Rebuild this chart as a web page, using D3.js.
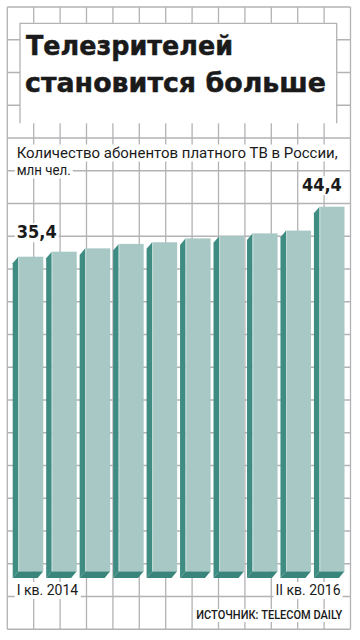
<!DOCTYPE html>
<html><head><meta charset="utf-8">
<script src="https://cdn.jsdelivr.net/npm/d3@7"></script>
<style>html,body{margin:0;padding:0;background:#fff}svg{display:block}</style>
</head><body>
<script>
const categories = ["I кв. 2014","II кв. 2014","III кв. 2014","IV кв. 2014","I кв. 2015","II кв. 2015","III кв. 2015","IV кв. 2015","I кв. 2016","II кв. 2016"];
const values = [35.4, 36.3, 36.9, 37.7, 38.0, 38.7, 39.1, 39.6, 40.1, 44.4];
const valueLabels = ["35,4", "44,4"];
const titleLines = ["Телезрителей", "становится больше"];
const subtitleLines = ["Количество абонентов платного ТВ в России,", "млн чел."];
const axisLabels = ["I кв. 2014", "II кв. 2016"];
const sourceText = "ИСТОЧНИК: TELECOM DAILY";

const W = 360, H = 640;
const svg = d3.select("body").append("svg").attr("width", W).attr("height", H);

const gridColor = "#b3b3b6";
// background grid
const gx0 = 7.3, gdx = 26.4, gy0 = 7, gdy = 32.75;
const grid = svg.append("g").attr("stroke", gridColor).attr("stroke-width", 1.3);
d3.range(14).forEach(k => grid.append("line").attr("x1", gx0 + k*gdx).attr("x2", gx0 + k*gdx).attr("y1", gy0).attr("y2", gy0 + 19*gdy));
d3.range(20).forEach(k => grid.append("line").attr("x1", gx0).attr("x2", gx0 + 13*gdx).attr("y1", gy0 + k*gdy).attr("y2", gy0 + k*gdy));

// title box
svg.append("rect").attr("x", 20).attr("y", 23.3).attr("width", 316.7).attr("height", 100).attr("fill", "#fff");
svg.append("path").attr("d", "M20,123.3V23.3H336.7V123.3").attr("fill", "none").attr("stroke", gridColor).attr("stroke-width", 1.3);

const title = svg.append("g").attr("font-family", "'DejaVu Sans', sans-serif").attr("font-weight", "bold")
  .attr("fill", "#1a1a1a").attr("stroke", "#1a1a1a").attr("stroke-width", 0.5);
title.append("text").attr("x", 26).attr("y", 55).attr("font-size", 27).attr("textLength", 207).attr("lengthAdjust", "spacingAndGlyphs").text(titleLines[0]);
title.append("text").attr("x", 25).attr("y", 91.5).attr("font-size", 27).attr("textLength", 301).attr("lengthAdjust", "spacingAndGlyphs").text(titleLines[1]);

function textWithBg(x, y, str, opts) {
  const g = svg.append("g");
  const bg = g.append("rect").attr("fill", "#fff");
  const t = g.append("text").attr("x", x).attr("y", y)
    .attr("font-family", opts.family || "'Liberation Sans Narrow', Roboto, sans-serif")
    .attr("font-size", opts.size).attr("font-weight", opts.weight || "normal")
    .attr("fill", opts.fill || "#1a1a1a").attr("text-anchor", opts.anchor || "start")
    .text(str);
  if (opts.len) t.attr("textLength", opts.len).attr("lengthAdjust", "spacingAndGlyphs");
  const b = t.node().getBBox();
  const p = opts.pad || 2;
  bg.attr("x", b.x - p).attr("y", b.y + 1).attr("width", b.width + 2*p).attr("height", b.height - 1);
  return t;
}

// subtitle
textWithBg(16.7, 157.5, subtitleLines[0], {size: 15, len: 321});
textWithBg(16.7, 174.5, subtitleLines[1], {size: 15, len: 54});

// scales
const x = d3.scaleBand().domain(categories).range([18.3, 344.5]).paddingInner(0.254).paddingOuter(0);
const baseY = 571.3;
const y = d3.scaleLinear().domain([35.4, 44.4]).range([256.7, 206.7]);
const dx = -5.6, dy = 6.6;

const bars = svg.append("g");
categories.forEach((c, i) => {
  const x0 = x(c), w = x.bandwidth(), top = y(values[i]);
  bars.append("path").attr("d", `M${x0},${top}L${x0+dx},${top+dy}L${x0+dx},${baseY+dy}L${x0},${baseY}Z`).attr("fill", "#3f8c82");
  bars.append("path").attr("d", `M${x0},${baseY}L${x0+dx},${baseY+dy}L${x0+w+dx},${baseY+dy}L${x0+w},${baseY}Z`).attr("fill", "#3a857b");
  bars.append("rect").attr("x", x0).attr("y", top).attr("width", w).attr("height", baseY - top).attr("fill", "#a7c8c4");
  bars.append("line").attr("x1", x0+0.5).attr("x2", x0+0.5).attr("y1", top).attr("y2", baseY).attr("stroke", "#c3dbd8").attr("stroke-width", 1);
});

// value labels
const first = categories[0], last = categories[categories.length-1];
textWithBg(x(first) - 1.6, y(values[0]) - 18.5, valueLabels[0], {size: 17.5, weight: "bold", family: "'DejaVu Sans', sans-serif", len: 40});
textWithBg(x(last) + x.bandwidth() - 2.6, y(values[values.length-1]) - 15.5, valueLabels[1], {size: 17.5, weight: "bold", family: "'DejaVu Sans', sans-serif", anchor: "end", len: 40});

// axis labels
textWithBg(16.7, 595, axisLabels[0], {size: 15, len: 61.5});
textWithBg(340.5, 595, axisLabels[1], {size: 15, anchor: "end", len: 65});
textWithBg(342.3, 619, sourceText, {size: 12, anchor: "end", len: 146, weight: "500"});
</script>
</body></html>
